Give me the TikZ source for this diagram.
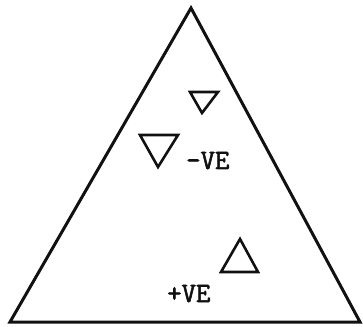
\documentclass[tikz,border=0pt]{standalone}
\usepackage{fontspec}
\newfontfamily\vefont[FakeBold=2]{Latin Modern Mono}
\usetikzlibrary{positioning}
\definecolor{ink}{HTML}{111111}

\begin{document}
\begin{tikzpicture}[y=1pt, x=1pt, line join=miter]
                \useasboundingbox (0,0) rectangle (363,326);
                \tikzset{lbl/.style={inner sep=0pt, anchor=base west, font=\vefont\fontsize{28}{28}\selectfont, text=ink}}
                % outer triangle
                \draw[ink, line width=3pt] (191,318) -- (10,4) -- (360,4) -- cycle;
                % small markers: left/right/tip
                \foreach \a/\b/\c in {190/218/202, 140/178/158} {
                    \pgfmathsetmacro{\t}{\a==190 ? 234 : 191}
                    \pgfmathsetmacro{\v}{\a==190 ? 213 : 159}
                    \draw[ink, line width=2.6pt] (\a,\t) -- (\b,\t) -- (\c,\v) -- cycle;
                }
                \draw[ink, line width=2.6pt] (221,54) -- (258,54) -- (240,87) -- cycle;
                \node[lbl] (neg) at (186,157) {-VE};
                \node[lbl] (pos) at (167,24) {+VE};
            \end{tikzpicture}
\end{document}
